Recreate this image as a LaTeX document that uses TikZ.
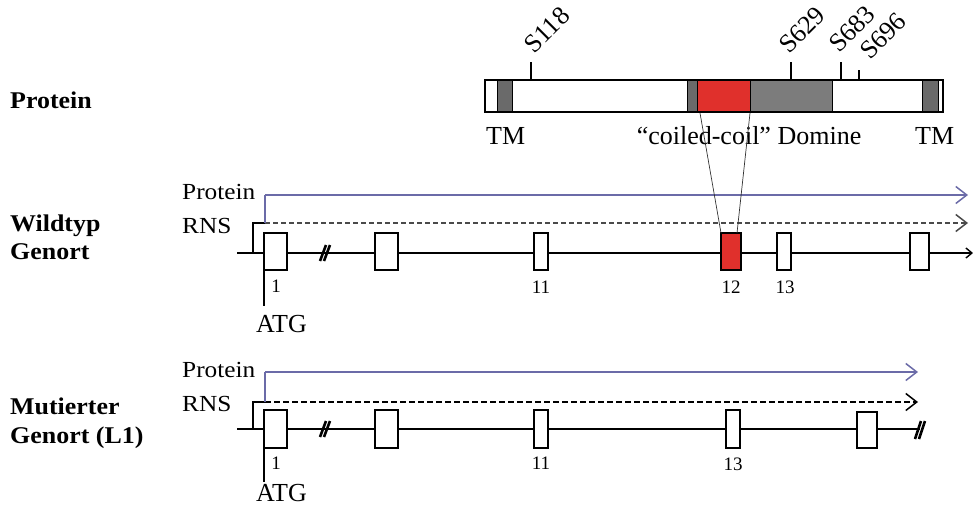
\documentclass[tikz,border=0pt]{standalone}
\usepackage{fontspec}
\setmainfont{Liberation Serif}
\usetikzlibrary{arrows.meta}
\definecolor{protblue}{HTML}{6B6BA8}
\definecolor{rnsgrey}{HTML}{4A4A4A}
\definecolor{tmgrey}{HTML}{6A6A6A}
\definecolor{domgrey}{HTML}{7C7C7C}
\definecolor{ccred}{HTML}{E0302C}
\tikzset{
  rowlabel/.style={font={\fontsize{24}{28}\selectfont\bfseries}, inner sep=0pt, xscale=1.08, anchor=base west},
  tracklabel/.style={font={\fontsize{23}{27}\selectfont}, inner sep=0pt, xscale=1.1, anchor=base west},
  annot/.style={font={\fontsize{26}{30}\selectfont}, inner sep=0pt, anchor=base west},
  exnum/.style={font={\fontsize{19}{22}\selectfont}, inner sep=0pt, anchor=base},
  site/.style={font={\fontsize{26}{30}\selectfont}, inner sep=0pt, rotate=45, anchor=base west},
  exon/.style={draw=black, line width=1.4pt, fill=white, inner sep=0pt, outer sep=0pt},
  genomeline/.style={line width=2.4pt, black},
  protarrow/.style={protblue, line width=1.5pt, -{Straight Barb[length=11pt,width=17pt,line width=1.5pt]}},
  rnsarrow/.style={rnsgrey, line width=1.5pt, dash pattern=on 5pt off 3pt, -{Straight Barb[length=11pt,width=17pt,line width=1.5pt]}},
  bracket/.style={line width=1.4pt},
  breakmark/.style={line width=2.6pt, black},
  tick/.style={line width=1.2pt},
  zoomline/.style={line width=0.7pt, black!80}
}
\newcommand{\exonbox}[6]{% name, x1, x2, y1, y2, fill
  \node[exon, fill=#6, minimum width={(#3-#2)*1pt}, minimum height={(#5-#4)*1pt}]
    (#1) at ({(#2+#3)/2},{(#4+#5)/2}) {};}
\begin{document}
\begin{tikzpicture}[x=1pt, y=-1pt]
\path[use as bounding box] (0,0) rectangle (973,506);

% ---------- row titles ----------
\node[rowlabel] (tProt) at (10,108) {Protein};
\node[rowlabel] (tWt1) at (10,231) {Wildtyp};
\node[rowlabel] (tWt2) at (10,259) {Genort};
\node[rowlabel] (tMu1) at (10,414) {Mutierter};
\node[rowlabel] (tMu2) at (10,443) {Genort (L1)};

% ---------- protein bar ----------
\fill[tmgrey] (497,80) rectangle (512,112);
\fill[tmgrey] (687,80) rectangle (697,112);
\fill[ccred] (697,80) rectangle (750,112);
\fill[domgrey] (750,80) rectangle (832,112);
\fill[tmgrey] (922,80) rectangle (938,112);
\foreach \xx in {497,512,687,697,750,832,922,938}
  \draw[line width=0.8pt] (\xx,80) -- (\xx,112);
\node[draw, line width=1.2pt, inner sep=0pt, minimum width=458pt, minimum height=32pt] (bar) at (714,96) {};

% phosphorylation sites
\coordinate (s1) at (531,62);
\coordinate (s2) at (791,62);
\coordinate (s3) at (841,62);
\coordinate (s4) at (859,70);
\draw[tick] (s1) -- (531,80);
\draw[tick] (s2) -- (791,80);
\draw[tick] (s3) -- (841,80);
\draw[tick] (s4) -- (859,80);
\node[site] (l1) at (534,55) {S118};
\node[site] (l2) at (789,55) {S629};
\node[site] (l3) at (839,54) {S683};
\node[site] (l4) at (870,61) {S696};

\node[annot] (tm1) at (486,144) {TM};
\node[annot, anchor=base] (cc) at (749,144) {“coiled-coil” Domine};
\node[annot] (tm2) at (915,144) {TM};

% ---------- wild-type locus ----------
\coordinate (wS) at (237,253);
\coordinate (wE) at (973,253);
\draw[genomeline, -{Straight Barb[length=6pt,width=10pt,line width=1.4pt]}] (wS) -- (wE);
\draw[breakmark] (320,261) -- (326,245) (324,261) -- (330,245);

\exonbox{w1}{264}{287}{233}{270}{white}
\exonbox{w2}{375}{398}{233}{270}{white}
\exonbox{w11}{534}{548}{233}{270}{white}
\exonbox{w12}{721}{741}{233}{270}{ccred}
\exonbox{w13}{777}{791}{233}{270}{white}
\exonbox{w14}{910}{929}{233}{270}{white}

\node[exnum] (n1) at (276,292) {1};
\node[exnum] (n11) at (541,293) {11};
\node[exnum] (n12) at (731,293) {12};
\node[exnum] (n13) at (785,293) {13};

% transcription start and ATG
\coordinate (wR0) at (253,253);
\coordinate (wR1) at (253,223);
\coordinate (wRe) at (968,223);
\coordinate (wP0) at (265,223);
\coordinate (wP1) at (265,195);
\coordinate (wPe) at (968,195);
\draw[bracket] (wR0) -- (wR1) -- (wP0);
\draw[rnsarrow] (wP0) -- (wRe);
\draw[protblue, line width=1.5pt] (wP0) -- (wP1);
\draw[protarrow] (wP1) -- (wPe);
\node[tracklabel] (wPl) at (182,199) {Protein};
\node[tracklabel] (wRl) at (182,233) {RNS};
\coordinate (wA) at (264,306);
\draw[bracket] (w1.south west) -- (wA);
\node[annot] (wATG) at (256,332) {ATG};

% link from the coiled-coil segment to exon 12
\draw[zoomline] (700,113) -- (w12.north west);
\draw[zoomline] (750,113) -- ([xshift=-4pt]w12.north east);

% ---------- mutant locus (L1) ----------
\coordinate (mS) at (237,429);
\coordinate (mE) at (920,429);
\draw[genomeline] (mS) -- (mE);
\draw[breakmark] (320,437) -- (326,421) (324,437) -- (330,421);
\draw[breakmark] (915,439) -- (921,421) (919,439) -- (925,421);

\exonbox{m1}{264}{287}{410}{448}{white}
\exonbox{m2}{375}{398}{410}{448}{white}
\exonbox{m11}{534}{548}{410}{448}{white}
\exonbox{m13}{726}{740}{410}{448}{white}
\exonbox{m14}{857}{877}{412}{448}{white}

\node[exnum] (k1) at (276,469) {1};
\node[exnum] (k11) at (541,469) {11};
\node[exnum] (k13) at (733,470) {13};

\coordinate (mR0) at (253,429);
\coordinate (mR1) at (253,402);
\coordinate (mRe) at (918,402);
\coordinate (mP0) at (265,402);
\coordinate (mP1) at (265,372);
\coordinate (mPe) at (918,372);
\draw[bracket] (mR0) -- (mR1) -- (mP0);
\draw[rnsarrow, dash pattern=on 6pt off 3pt, black] (mP0) -- (mRe);
\draw[protblue, line width=1.5pt] (mP0) -- (mP1);
\draw[protarrow] (mP1) -- (mPe);
\node[tracklabel] (mPl) at (182,377) {Protein};
\node[tracklabel] (mRl) at (182,411) {RNS};
\coordinate (mA) at (264,482);
\draw[bracket] (m1.south west) -- (mA);
\node[annot] (mATG) at (256,501) {ATG};
\end{tikzpicture}
\end{document}
